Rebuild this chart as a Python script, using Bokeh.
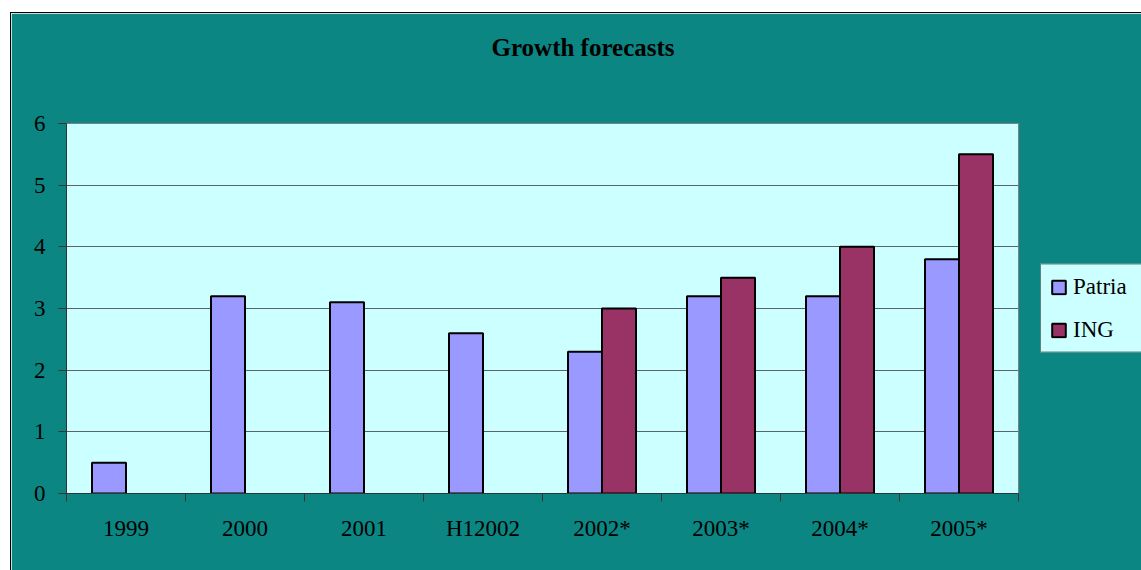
import numpy as np
from bokeh.plotting import figure
from bokeh.models import FixedTicker, Legend, LegendItem, Range1d, Title
from bokeh.embed import file_html
from bokeh.resources import INLINE

categories = ["1999", "2000", "2001", "H12002", "2002*", "2003*", "2004*", "2005*"]
patria = [0.5, 3.2, 3.1, 2.6, 2.3, 3.2, 3.2, 3.8]
ing = [np.nan, np.nan, np.nan, np.nan, 3.0, 3.5, 4.0, 5.5]
y_ticks = [0, 1, 2, 3, 4, 5, 6]
title_text = "Growth forecasts"

FONT = "Liberation Serif"
BG = "#0B8683"

n = len(categories)
centers = np.arange(n) + 0.5
bar_w = 1 / 3.5

p = figure(frame_width=952, frame_height=370, output_backend="svg", toolbar_location=None,
           x_range=Range1d(0, n), y_range=Range1d(0, 6),
           min_border_left=55, min_border_right=123, min_border_top=110, min_border_bottom=77)
p.margin = (12, 0, 0, 10)
p.styles = {"border-left": "1px solid black", "border-top": "1px solid black"}
p.border_fill_color = BG
p.background_fill_color = "#CCFFFF"
p.outline_line_color = "#808080"
p.outline_line_width = 1

p.title = Title(text=title_text, align="left", offset=425, standoff=0,
                text_font=FONT, text_font_size="25px", text_font_style="bold",
                text_color="black")
# spacer between title and plot area
p.add_layout(Title(text=" ", text_font_size="1px", standoff=60), "above")

r1 = p.vbar(x=centers - bar_w / 2, top=patria, width=bar_w, bottom=0,
            fill_color="#9999FF", line_color="black", line_width=2)
r2 = p.vbar(x=centers + bar_w / 2, top=ing, width=bar_w, bottom=0,
            fill_color="#993366", line_color="black", line_width=2)

# x axis: labels at centres, ticks at category boundaries
xa = p.xaxis[0]
xa.ticker = FixedTicker(ticks=list(centers), minor_ticks=list(range(n + 1)))
xa.major_label_overrides = {float(c): lab for c, lab in zip(centers, categories)}
xa.major_tick_out = 0
xa.major_tick_in = 0
xa.minor_tick_out = 8
xa.minor_tick_in = 0
xa.minor_tick_line_color = "#333333"
xa.axis_line_color = "#333333"
xa.major_label_text_font = FONT
xa.major_label_text_font_size = "23px"
xa.major_label_text_color = "black"
xa.major_label_standoff = 14

ya = p.yaxis[0]
ya.ticker = FixedTicker(ticks=y_ticks)
ya.major_tick_out = 8
ya.major_tick_in = 0
ya.minor_tick_line_color = None
ya.major_tick_line_color = "#333333"
ya.axis_line_color = "#333333"
ya.major_label_text_font = FONT
ya.major_label_text_font_size = "23px"
ya.major_label_text_color = "black"
ya.major_label_standoff = 13

p.xgrid.grid_line_color = None
p.ygrid.grid_line_color = "#5A6464"
p.ygrid.grid_line_width = 1

legend = Legend(items=[LegendItem(label="Patria", renderers=[r1]),
                       LegendItem(label="ING", renderers=[r2])],
                location="center_left")
legend.label_text_font = FONT
legend.label_text_font_size = "23px"
legend.label_text_color = "black"
legend.glyph_width = 17
legend.glyph_height = 17
legend.padding = 9
legend.spacing = 17
legend.label_standoff = 6
legend.label_width = 72
legend.background_fill_color = "#CCFFFF"
legend.background_fill_alpha = 1
legend.border_line_color = "black"
legend.border_line_width = 1
legend.margin = 22
p.add_layout(legend, "right")

open("out.html", "w").write(file_html(p, INLINE))
